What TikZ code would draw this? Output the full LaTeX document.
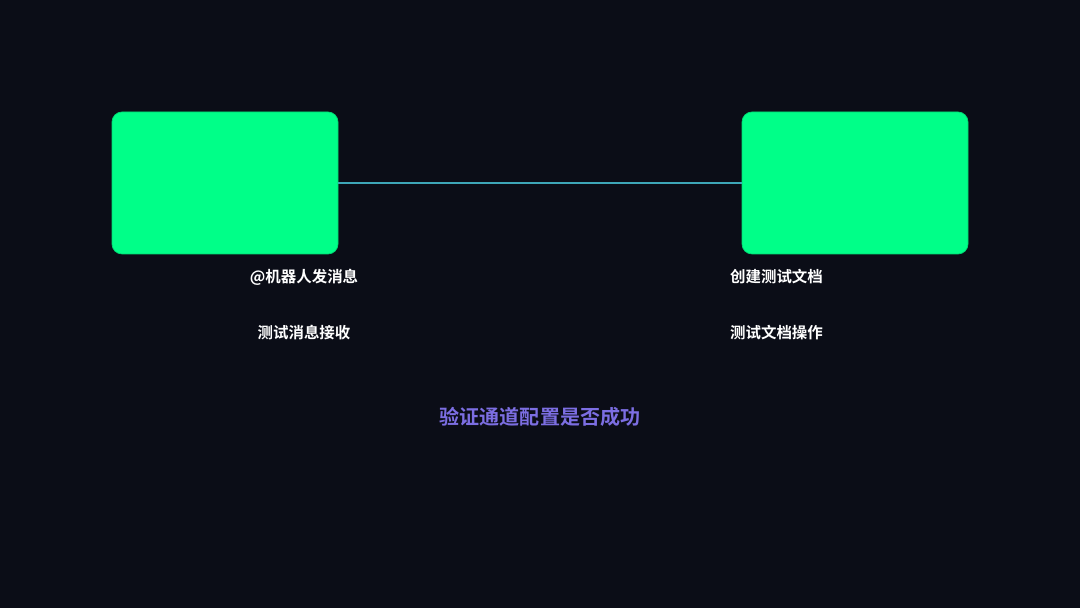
\documentclass[tikz,border=0pt]{standalone}
\usepackage{fontspec}
\newfontfamily\cjk{Noto Sans CJK SC}[BoldFont={Noto Sans CJK SC Bold}]
\definecolor{bgdark}{RGB}{11,13,23}
\definecolor{boxgreen}{RGB}{0,255,136}
\definecolor{linkteal}{RGB}{62,166,184}
\definecolor{notepurple}{RGB}{124,110,226}
\tikzset{
    stagebox/.style={fill=boxgreen, draw=boxgreen!85!black, line width=0.4pt, rounded corners=0.2cm, minimum width=4.52cm, minimum height=2.84cm},
    steptext/.style={text=white, font=\cjk\bfseries\fontsize{8.8}{10}\selectfont},
    goaltext/.style={text=notepurple, font=\cjk\bfseries\fontsize{11.4}{13}\selectfont}
}
\begin{document}
\begin{tikzpicture}
    % Background
    \fill[bgdark] (0,0) rectangle (21.6,12.16);
    \useasboundingbox (0,0) rectangle (21.6,12.16);

    % Boxes
    \node[stagebox] (bot) at (4.5, 8.5) {};
    \node[stagebox] (doc) at (17.1, 8.5) {};
    \draw[linkteal, line width=0.6pt] (bot.east) -- (doc.west);

    % Step labels
    \node[steptext] (botsend) at (6.08, 6.62) {@机器人发消息};
    \node[steptext] (botrecv) at (6.08, 5.5) {测试消息接收};
    \node[steptext] (docmake) at (15.53, 6.62) {创建测试文档};
    \node[steptext] (docedit) at (15.53, 5.5) {测试文档操作};

    \node[goaltext] (goal) at (10.8, 3.82) {验证通道配置是否成功};
\end{tikzpicture}
\end{document}
